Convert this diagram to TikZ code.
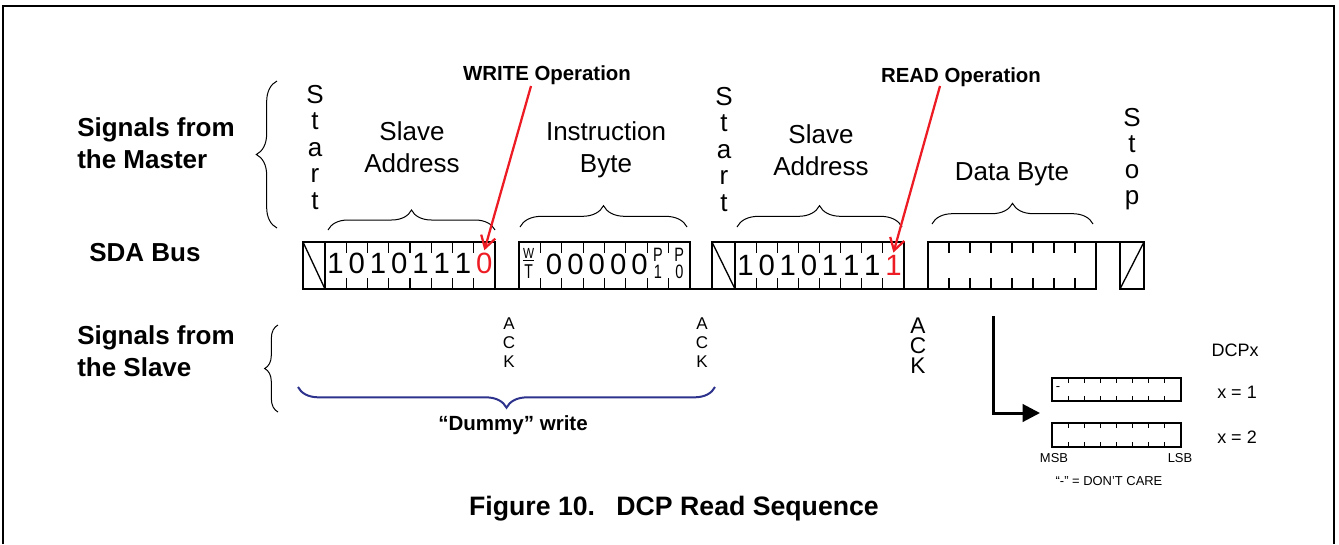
\documentclass[tikz,border=0pt]{standalone}
\usepackage{fontspec}
\usepackage{graphicx}
\setmainfont{Liberation Sans}
\usetikzlibrary{decorations.pathreplacing,arrows.meta,calc}
\definecolor{opred}{RGB}{237,28,36}
\definecolor{navy}{RGB}{45,50,140}
\newcommand{\fsz}[2]{\fontsize{#1}{#2}\selectfont}
\begin{document}
\begin{tikzpicture}[x=0.75pt,y=-0.75pt,
  busbox/.style={draw, line width=1pt, inner sep=0pt, outer sep=0pt, anchor=north west, minimum height=35.25pt},
  regbox/.style={draw, line width=0.9pt, inner sep=0pt, outer sep=0pt, anchor=north west, minimum width=96.75pt},
  tickline/.style={line width=0.9pt},
  busline/.style={line width=1pt},
  bit/.style={font=\fsz{22}{22}, anchor=base, inner sep=0pt},
  redbit/.style={bit, text=opred},
  lbl/.style={font=\fsz{19.5}{24}, align=center, inner sep=0pt},
  vlbl/.style={font=\fsz{19.5}{19.8}, align=center, inner sep=0pt, anchor=north},
  acklbl/.style={font=\fsz{12.75}{13.9}, align=center, inner sep=0pt, anchor=north},
  hdr/.style={font=\bfseries\fsz{19.5}{24}, align=left, inner sep=0pt, anchor=north west},
  oplbl/.style={font=\bfseries\fsz{15.3}{15.3}, inner sep=0pt, anchor=base},
  small/.style={font=\fsz{13.5}{13.5}, inner sep=0pt, anchor=base},
  tiny/.style={font=\fsz{9.7}{9.7}, inner sep=0pt, anchor=base},
  brc/.style={decorate, decoration={brace, amplitude=#1}, line width=0.75pt},
  redarrow/.style={draw=opred, line width=1.7pt, -{Straight Barb[length=9pt,width=11pt,line width=1.7pt]}}
]
\useasboundingbox (0,0) rectangle (1339,544);
% frame
\draw[line width=1.4pt] (3,544) -- (3,6) -- (1334,6) -- (1334,544);

% left headers
\node[hdr] (master) at (77,117) {Signals from\\the Master};
\node[font=\bfseries\fsz{19.5}{19.5}, inner sep=0pt, anchor=base west] (sda) at (89,261) {SDA Bus};
\node[hdr] (slave) at (77,325) {Signals from\\the Slave};
\draw[brc=15.5pt] (277,228) -- (277,81);
\draw[brc=10pt] (278,412) -- (278,325);

% bus boxes
\node[busbox, minimum width=16.5pt] (st1) at (303,242) {};
\node[busbox, minimum width=127.5pt] (sa1) at (325,242) {};
\node[busbox, minimum width=128.25pt] (ib) at (519,242) {};
\node[busbox, minimum width=17.25pt] (st2) at (712,242) {};
\node[busbox, minimum width=126.75pt] (sa2) at (735,242) {};
\node[busbox, minimum width=126pt] (db) at (928,242) {};
\node[busbox, minimum width=18pt] (sp) at (1120,242) {};

\draw[busline] (st1.north west) -- (st1.south east);
\draw[busline] (st2.north west) -- (st2.south east);
\draw[busline] (sp.south west) -- (sp.north east);
\draw[busline] (sa1.south east) -- (ib.south west);
\draw[busline] (ib.south east) -- (st2.south west);
\draw[busline] (sa2.south east) -- (db.south west);
\draw[busline] (db.north east) -- (sp.north west);

\foreach \b in {sa1,ib,sa2,db}{
  \foreach \i in {1,...,7}{
    \draw[tickline] ($(\b.north west)!{\i/8}!(\b.north east)$) -- ++(0,11);
    \draw[tickline] ($(\b.south west)!{\i/8}!(\b.south east)$) -- ++(0,-11);
  }
}

% bits
\foreach \d [count=\i] in {1,0,1,0,1,1,1}{
  \node[bit] at ($(sa1.south west)!{(\i-0.5)/8}!(sa1.south east) + (0,-16)$) {\d};
}
\node[redbit] (w0) at ($(sa1.south west)!{7.5/8}!(sa1.south east) + (0,-16)$) {0};
\foreach \d [count=\i] in {1,0,1,0,1,1,1}{
  \node[bit] at ($(sa2.south west)!{(\i-0.5)/8}!(sa2.south east) + (0,-14)$) {\d};
}
\node[redbit] (r1b) at ($(sa2.south west)!{7.5/8}!(sa2.south east) + (0,-14)$) {1};
\foreach \i in {2,...,6}{
  \node[bit] at ($(ib.south west)!{(\i-0.5)/8}!(ib.south east) + (3,-15)$) {0};
}
\node[inner sep=0pt, anchor=north, align=center] (wt) at ($(ib.north west)!{0.5/8}!(ib.north east) + (-1,6)$)
  {{\fsz{11}{11}\underline{\scalebox{0.8}[1]{W}}}\\[2pt]{\fsz{15}{15}\scalebox{0.7}[1]{T}}};
\node[inner sep=0pt, anchor=north, align=center, font=\fsz{14.5}{13}] (p1) at ($(ib.north west)!{6.5/8}!(ib.north east) + (0,6)$)
  {\scalebox{0.75}[1]{P}\\\scalebox{0.75}[1]{1}};
\node[inner sep=0pt, anchor=north, align=center, font=\fsz{14.5}{13}] (p0) at ($(ib.north west)!{7.5/8}!(ib.north east) + (0,6)$)
  {\scalebox{0.75}[1]{P}\\\scalebox{0.75}[1]{0}};

% labels above
\node[vlbl] (start1) at (315,85) {S\\t\\a\\r\\t};
\node[vlbl] (start2) at (724,87) {S\\t\\a\\r\\t};
\node[vlbl, font=\fsz{19.5}{19.5}] (stop) at (1132,108) {S\\t\\o\\p};
\node[lbl, anchor=north] (sal1) at (412,121) {Slave\\Address};
\node[lbl, anchor=north] (ibl) at (606,121) {Instruction\\Byte};
\node[lbl, anchor=north] (sal2) at (821,124) {Slave\\Address};
\node[lbl, anchor=base] (dbl) at (1012,180) {Data Byte};

\draw[brc=15pt] (328,230) -- (495,230);
\draw[brc=16pt] (520,227) -- (687,227);
\draw[brc=16pt] (737,227) -- (902,227);
\draw[brc=15.5pt] (932,224) -- (1093,224);

% operations
\node[oplbl] (wop) at (547,80) {WRITE Operation};
\node[oplbl] (rop) at (961,82) {READ Operation};
\coordinate (wsrc) at (531,86);
\coordinate (rsrc) at (940,86);
\draw[redarrow] (wsrc) -- ($(w0.north)+(0,-2)$);
\draw[redarrow] (rsrc) -- ($(r1b.north)+(0,-2)$);

% ACKs
\node[acklbl] (ack1) at (509,318) {A\\C\\K};
\node[acklbl] (ack2) at (702,318) {A\\C\\K};
\node[acklbl, font=\fsz{17}{15}] (ack3) at (918,318) {A\\C\\K};

% dummy write
\draw[brc=15.5pt, draw=navy, line width=1.5pt] (715,387) -- (298,387);
\node[font=\bfseries\fsz{15.4}{15.4}, inner sep=0pt, anchor=base] (dummy) at (513,430) {“Dummy” write};

% data to registers
\coordinate (dsrc) at (993,316);
\coordinate (dtgt) at (1040,413);
\draw[line width=2.25pt, -{Triangle[length=13pt,width=13pt]}] (dsrc) |- (dtgt);

\node[regbox, minimum height=17.25pt] (reg1) at (1052,378) {};
\node[regbox, minimum height=18pt] (reg2) at (1052,423) {};
\foreach \b in {reg1,reg2}{
  \foreach \i in {1,...,7}{
    \draw[line width=0.75pt] ($(\b.north west)!{\i/8}!(\b.north east)$) -- ++(0,5);
    \draw[line width=0.75pt] ($(\b.south west)!{\i/8}!(\b.south east)$) -- ++(0,-5);
  }
}
\node[tiny] (dash) at (1058,390) {-};
\node[small] (dcpx) at (1235,356) {DCPx};
\node[small] (x1) at (1237,398) {x = 1};
\node[small] (x2) at (1237,443) {x = 2};
\node[tiny] (msb) at (1054,462) {MSB};
\node[tiny] (lsb) at (1180,462) {LSB};
\node[tiny] (dc) at (1109,485) {“-” = DON’T CARE};

% caption
\node[font=\bfseries\fsz{20}{20}, inner sep=0pt, anchor=base] (cap) at (674,515) {Figure 10.\hspace{16pt}DCP Read Sequence};
\end{tikzpicture}
\end{document}
